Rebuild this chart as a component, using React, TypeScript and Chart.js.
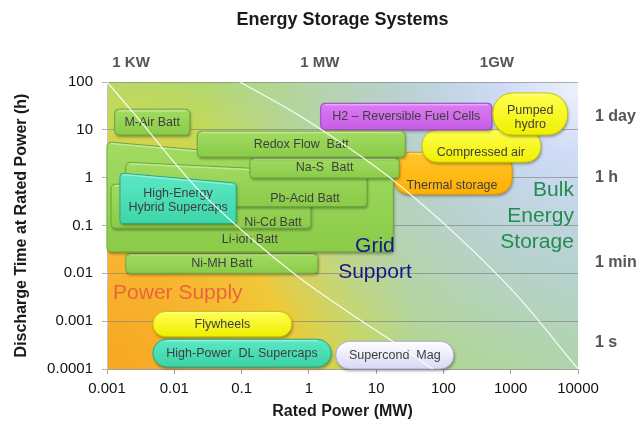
import React, { useEffect, useRef } from 'react';
import { Chart, registerables } from 'chart.js';

Chart.register(...registerables);

// ---------- data ----------
const chartTitle = 'Energy Storage Systems';
const xTickValues = [0.001, 0.01, 0.1, 1, 10, 100, 1000, 10000];
const yTickValues = [0.0001, 0.001, 0.01, 0.1, 1, 10, 100];
const topTickValues = [0.00228, 1.46, 624];
const topTickLabels = ['1 KW', '1 MW', '1GW'];
const rightTickValues = [0.00035, 0.0167, 1, 18.5];
const rightTickLabels = ['1 s', '1 min', '1 h', '1 day'];

// technologies (drawing order: back to front)
const techNames = [
  'Thermal storage',
  'Compressed air',
  'H2 – Reversible Fuel Cells',
  'Pumped\nhydro',
  'Ni-MH Batt',
  'Li-ion Batt',
  'Ni-Cd Batt',
  'Pb-Acid Batt',
  'High-Energy\nHybrid Supercaps',
  'Na-S  Batt',
  'Redox Flow  Batt',
  'M-Air Batt',
  'Flywheels',
  'High-Power  DL Supercaps',
  'Supercond  Mag',
];
const techKind = ['thermal', 'mech', 'h2', 'hydro', 'batt', 'batt', 'batt', 'batt', 'hybrid', 'batt', 'batt', 'batt', 'fly', 'cap', 'mag'];
const powerMin = [18, 48, 1.5, 543, 0.0019, 0.001, 0.00115, 0.0019, 0.00156, 0.133, 0.022, 0.0013, 0.0048, 0.0048, 2.5];
const powerMax = [1050, 2800, 525, 7000, 1.36, 18, 1.07, 7.3, 0.083, 22, 27, 0.017, 0.56, 2.15, 143];
const timeMin = [0.45, 2.1, 10, 7.8, 0.01, 0.028, 0.088, 0.25, 0.11, 0.98, 2.7, 7.8, 0.00047, 0.00011, 0.0001];
const timeMax = [3.4, 10, 36, 59, 0.026, 1.7, 0.73, 1.21, 0.77, 2.6, 9.4, 27, 0.0016, 0.00042, 0.00038];
const timeMaxAtMinPower: (number | null)[] = [null, null, null, null, null, 5.6, null, 2.1, 1.25, null, null, null, null, null, null];
const labelPower: (number | null)[] = [134, 360, null, null, null, 0.133, 0.293, 0.875, null, null, null, null, null, null, null];
const labelTime: (number | null)[] = [0.7, 3.4, null, 18.5, null, 0.052, 0.118, 0.374, null, null, null, null, null, null, null];

// white guide curves
const curveAPower = [0.001, 0.00279, 0.0217, 0.148, 0.738, 4.08, 22.6, 69.8];
const curveATime = [100, 18.5, 0.605, 0.0496, 0.0079, 0.00147, 0.0003, 0.0001];
const curveBPower = [0.0946, 0.738, 11.4, 125, 1153, 10000];
const curveBTime = [100, 19.5, 1.44, 0.084, 0.00385, 0.0001];

// region labels
const regionLabels = ['Power Supply', 'Grid\nSupport', 'Bulk\nEnergy\nStorage'];
const regionPower = [0.00123, 9.6, 8690];
const regionTime = [0.00385, 0.037, 0.55];

// ---------- styles ----------
const FONT = "'Liberation Sans', Arial, Helvetica, sans-serif";
type BoxStyle = { top: string; bottom: string; stroke: string; radius: number | 'pill' };
const boxStyles: Record<string, BoxStyle> = {
  batt: { top: '#a2dc62', bottom: '#8acb48', stroke: '#6ea83c', radius: 4 },
  hybrid: { top: '#5ce8c6', bottom: '#3ed6a8', stroke: '#2aa882', radius: 3 },
  cap: { top: '#5ce8c6', bottom: '#3ad2a4', stroke: '#2aa882', radius: 'pill' },
  fly: { top: '#ffff55', bottom: '#eeee00', stroke: '#c4c400', radius: 'pill' },
  mech: { top: '#ffff50', bottom: '#f0f000', stroke: '#c4c400', radius: 15 },
  hydro: { top: '#ffff50', bottom: '#f0f000', stroke: '#c4c400', radius: 20 },
  thermal: { top: '#ffc630', bottom: '#ffb000', stroke: '#e09a00', radius: 16 },
  h2: { top: '#dc7cf4', bottom: '#c85ce6', stroke: '#a042c0', radius: 4 },
  mag: { top: '#ffffff', bottom: '#d8d8f6', stroke: '#a8a8d2', radius: 'pill' },
};
const regionStyles = [
  { color: '#e8663c', align: 'left' as CanvasTextAlign },
  { color: '#16168e', align: 'center' as CanvasTextAlign },
  { color: '#228c4e', align: 'right' as CanvasTextAlign },
];

function roundedPath(ctx: CanvasRenderingContext2D, pts: number[][], r: number) {
  const n = pts.length;
  const last = pts[n - 1];
  const first = pts[0];
  ctx.beginPath();
  ctx.moveTo((last[0] + first[0]) / 2, (last[1] + first[1]) / 2);
  for (let i = 0; i < n; i++) {
    const p = pts[i];
    const q = pts[(i + 1) % n];
    ctx.arcTo(p[0], p[1], q[0], q[1], r);
  }
  ctx.closePath();
}

const backgroundPlugin = {
  id: 'bg',
  beforeDraw(chart: any) {
    const { ctx, chartArea } = chart;
    const { left, top, right, bottom } = chartArea;
    const w = right - left;
    const h = bottom - top;
    ctx.save();
    const g1 = ctx.createRadialGradient(left, bottom, 0, left, bottom, w);
    g1.addColorStop(0, '#f7a620');
    g1.addColorStop(0.22, '#f8b430');
    g1.addColorStop(0.38, '#f0c838');
    g1.addColorStop(0.52, '#c9d852');
    g1.addColorStop(0.66, '#afd872');
    g1.addColorStop(1, '#a8d888');
    ctx.fillStyle = g1;
    ctx.fillRect(left, top, w, h);
    const g2 = ctx.createRadialGradient(right, top, 0, right, top, w * 0.8);
    g2.addColorStop(0, 'rgba(238,242,253,1)');
    g2.addColorStop(0.2, 'rgba(208,219,250,0.97)');
    g2.addColorStop(0.5, 'rgba(190,206,245,0.65)');
    g2.addColorStop(1, 'rgba(190,206,245,0)');
    ctx.fillStyle = g2;
    ctx.fillRect(left, top, w, h);
    ctx.restore();
  },
};

const boxesPlugin = {
  id: 'boxes',
  beforeDatasetsDraw(chart: any) {
    const { ctx } = chart;
    const xs = chart.scales.x;
    const ys = chart.scales.y;
    for (let i = 0; i < techNames.length; i++) {
      const st = boxStyles[techKind[i]];
      const x0 = xs.getPixelForValue(powerMin[i]);
      const x1 = xs.getPixelForValue(powerMax[i]);
      const yb = ys.getPixelForValue(timeMin[i]);
      const ytR = ys.getPixelForValue(timeMax[i]);
      const tl = timeMaxAtMinPower[i];
      const ytL = tl != null ? ys.getPixelForValue(tl) : ytR;
      const hgt = Math.min(yb - ytL, yb - ytR);
      const wid = x1 - x0;
      const r = st.radius === 'pill' ? Math.min(hgt, wid) / 2 : Math.min(st.radius, hgt / 2, wid / 2);
      const pts = [[x0, ytL], [x1, ytR], [x1, yb], [x0, yb]];

      ctx.save();
      ctx.shadowColor = 'rgba(0,0,0,0.35)';
      ctx.shadowBlur = 3;
      ctx.shadowOffsetX = 1;
      ctx.shadowOffsetY = 2;
      const grad = ctx.createLinearGradient(0, Math.min(ytL, ytR), 0, yb);
      grad.addColorStop(0, st.top);
      grad.addColorStop(1, st.bottom);
      roundedPath(ctx, pts, r);
      ctx.fillStyle = grad;
      ctx.fill();
      ctx.restore();

      ctx.save();
      roundedPath(ctx, pts, r);
      ctx.lineWidth = 1;
      ctx.strokeStyle = st.stroke;
      ctx.stroke();
      ctx.beginPath();
      ctx.moveTo(x0 + r, ytL + 1.5);
      ctx.lineTo(x1 - r, ytR + 1.5);
      ctx.strokeStyle = 'rgba(255,255,255,0.35)';
      ctx.lineWidth = 1.5;
      ctx.stroke();
      ctx.restore();

      const lpv = labelPower[i] ?? Math.sqrt(powerMin[i] * powerMax[i]);
      const topMean = Math.sqrt(timeMax[i] * (tl != null ? tl : timeMax[i]));
      const ltv = labelTime[i] ?? Math.sqrt(timeMin[i] * topMean);
      const lx = xs.getPixelForValue(lpv);
      const ly = ys.getPixelForValue(ltv);
      const lines = techNames[i].split('\n');
      ctx.save();
      ctx.font = `12.5px ${FONT}`;
      ctx.fillStyle = '#3e3e3e';
      ctx.textAlign = 'center';
      ctx.textBaseline = 'middle';
      const lh = 14;
      lines.forEach((t, k) => {
        ctx.fillText(t, lx, ly + (k - (lines.length - 1) / 2) * lh);
      });
      ctx.restore();
    }

    for (let i = 0; i < regionLabels.length; i++) {
      const st = regionStyles[i];
      const px = xs.getPixelForValue(regionPower[i]);
      const py = ys.getPixelForValue(regionTime[i]);
      ctx.save();
      ctx.font = `21px ${FONT}`;
      ctx.fillStyle = st.color;
      ctx.textAlign = st.align;
      ctx.textBaseline = 'middle';
      regionLabels[i].split('\n').forEach((t, k) => ctx.fillText(t, px, py + k * 26));
      ctx.restore();
    }
  },
};

const titlePlugin = {
  id: 'mainTitle',
  afterDraw(chart: any) {
    const { ctx, chartArea } = chart;
    ctx.save();
    ctx.font = `bold 18px ${FONT}`;
    ctx.fillStyle = '#1a1a1a';
    ctx.textAlign = 'center';
    ctx.textBaseline = 'middle';
    ctx.fillText(chartTitle, (chartArea.left + chartArea.right) / 2, 20);
    ctx.restore();
  },
};

export default function App() {
  const canvasRef = useRef<HTMLCanvasElement | null>(null);

  useEffect(() => {
    document.body.style.margin = '0';
    const canvas = canvasRef.current;
    if (!canvas) return;
    Chart.defaults.font.family = FONT;

    const lineStyle = {
      showLine: true,
      borderColor: 'rgba(255,255,255,0.92)',
      borderWidth: 1.2,
      pointRadius: 0,
      tension: 0.35,
      xAxisID: 'x',
      yAxisID: 'y',
    };

    const chart = new Chart(canvas, {
      type: 'scatter',
      data: {
        datasets: [
          { ...lineStyle, label: 'A', data: curveAPower.map((x, i) => ({ x, y: curveATime[i] })) },
          { ...lineStyle, label: 'B', data: curveBPower.map((x, i) => ({ x, y: curveBTime[i] })) },
        ],
      },
      options: {
        animation: false,
        responsive: false,
        events: [],
        layout: { padding: 0 },
        plugins: { legend: { display: false }, tooltip: { enabled: false }, title: { display: false } },
        scales: {
          x: {
            type: 'logarithmic',
            position: 'bottom',
            min: 0.001,
            max: 10000,
            afterBuildTicks: (s: any) => { s.ticks = xTickValues.map((v) => ({ value: v })); },
            afterFit: (s: any) => { s.height = 54; },
            grid: { drawOnChartArea: false, drawTicks: true, tickLength: 5, color: '#a0a0a0' },
            border: { display: true, color: '#a0a0a0' },
            ticks: { color: '#111', font: { size: 15 }, padding: 6, autoSkip: false, maxRotation: 0, callback: (v: any) => String(v) },
            title: { display: true, text: 'Rated Power (MW)', color: '#1a1a1a', font: { size: 16, weight: 'bold' }, padding: { top: 0, bottom: 2 } },
          },
          x2: {
            type: 'logarithmic',
            axis: 'x',
            position: 'top',
            min: 0.001,
            max: 10000,
            afterBuildTicks: (s: any) => { s.ticks = topTickValues.map((v) => ({ value: v })); },
            afterFit: (s: any) => { s.height = 82; },
            grid: { display: false, drawTicks: false },
            border: { display: false },
            ticks: { color: '#555', font: { size: 15, weight: 'bold' }, padding: 10, autoSkip: false, maxRotation: 0, callback: (_v: any, i: number) => topTickLabels[i] },
          },
          y: {
            type: 'logarithmic',
            position: 'left',
            min: 0.0001,
            max: 100,
            afterBuildTicks: (s: any) => { s.ticks = yTickValues.map((v) => ({ value: v })); },
            afterFit: (s: any) => { s.width = 107; },
            grid: { color: 'rgba(125,125,125,0.6)', drawTicks: true, tickLength: 5 },
            border: { display: true, color: '#c4c4c4' },
            ticks: { color: '#111', font: { size: 15 }, padding: 9, autoSkip: false, callback: (v: any) => String(v) },
            title: { display: true, text: 'Discharge Time at Rated Power (h)', color: '#1a1a1a', font: { size: 16, weight: 'bold' }, padding: { top: 12, bottom: 0 } },
          },
          y2: {
            type: 'logarithmic',
            axis: 'y',
            position: 'right',
            min: 0.0001,
            max: 100,
            afterBuildTicks: (s: any) => { s.ticks = rightTickValues.map((v) => ({ value: v })); },
            afterFit: (s: any) => { s.width = 60; },
            grid: { display: false, drawTicks: false },
            border: { display: false },
            ticks: { color: '#555', font: { size: 16, weight: 'bold' }, padding: 17, autoSkip: false, callback: (_v: any, i: number) => rightTickLabels[i] },
          },
        },
      } as any,
      plugins: [backgroundPlugin, boxesPlugin, titlePlugin],
    });

    return () => chart.destroy();
  }, []);

  return (
    <div style={{ position: 'absolute', left: 0, top: 0, width: 638, height: 423, background: '#fff' }}>
      <canvas ref={canvasRef} width={638} height={423} style={{ display: 'block' }} />
    </div>
  );
}
